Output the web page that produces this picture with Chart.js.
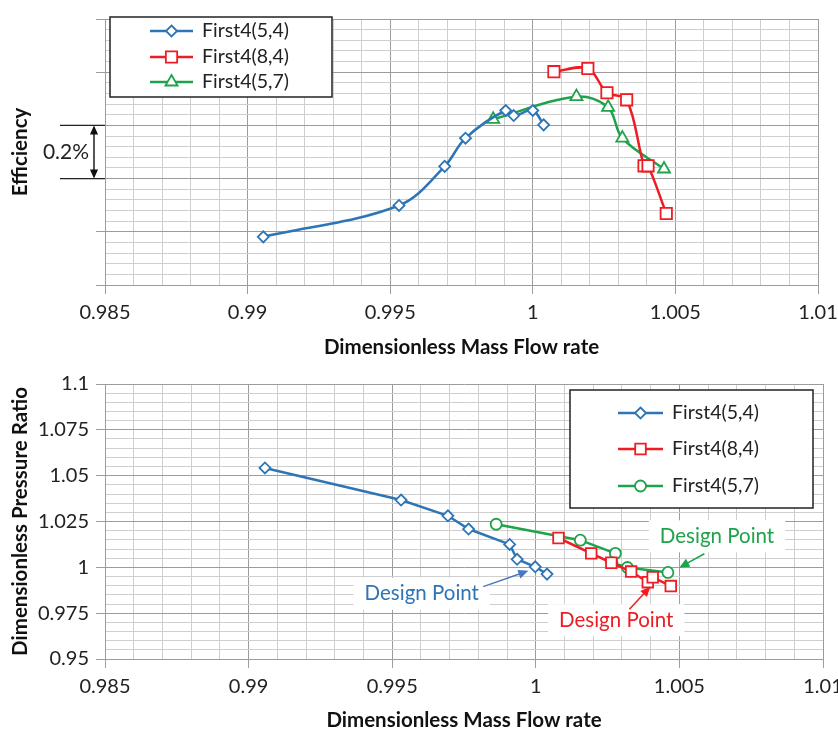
<!DOCTYPE html>
<html>
<head>
<meta charset="utf-8">
<script src="https://cdn.jsdelivr.net/npm/chart.js@4.4.0/dist/chart.umd.min.js"></script>
<style>
  body { margin: 0; background: #fff; width: 838px; height: 731px; overflow: hidden; position: relative; }
  .panel { position: absolute; left: 0; width: 838px; }
</style>
</head>
<body>
<div class="panel" style="top:0;height:365px"><canvas id="effChart" width="838" height="365"></canvas></div>
<div class="panel" style="top:365px;height:366px"><canvas id="prChart" width="838" height="366"></canvas></div>
<script>
// series names
const seriesNames = ['First4(5,4)', 'First4(8,4)', 'First4(5,7)'];

// axis tick labels
const flowTicks = ['0.985', '0.99', '0.995', '1', '1.005', '1.01'];
const ratioTicks = ['0.95', '0.975', '1', '1.025', '1.05', '1.075', '1.1'];

// efficiency panel (relative efficiency, in %, no absolute labels)
const flowEff54 = [0.99055, 0.99531, 0.99691, 0.99764, 0.99905, 0.99933, 1.0, 1.00038];
const eff54 = [0.181, 0.299, 0.446, 0.552, 0.656, 0.637, 0.656, 0.602];
const flowEff84 = [1.00074, 1.00193, 1.0026, 1.00329, 1.0039, 1.00404, 1.00468];
const eff84 = [0.802, 0.814, 0.723, 0.696, 0.448, 0.448, 0.269];
const flowEff57 = [0.99861, 1.00153, 1.00264, 1.00314, 1.0046];
const eff57 = [0.623, 0.708, 0.668, 0.552, 0.436];

// pressure ratio panel
const flowPr54 = [0.99057, 0.99531, 0.99694, 0.99766, 0.99909, 0.99935, 0.99998, 1.00039];
const pr54 = [1.0542, 1.0367, 1.0281, 1.0209, 1.0125, 1.0044, 1.0003, 0.9963];
const flowPr84 = [1.00079, 1.00193, 1.00263, 1.00332, 1.0039, 1.00407, 1.0047];
const pr84 = [1.016, 1.0076, 1.0025, 0.9977, 0.9919, 0.9946, 0.9898];
const flowPr57 = [0.99862, 1.00155, 1.00277, 1.00265, 1.00319, 1.0046];
const pr57 = [1.0235, 1.0148, 1.0076, 1.0026, 0.9999, 0.9972];

const BLUE = '#2e75b6', RED = '#ee1d23', GREEN = '#1fa34a';
const MAJOR = '#9c9c9c', MINOR = '#cfcfcf';
const FONT = 'Lato, "Noto Sans", sans-serif';

Chart.defaults.font.family = FONT;
Chart.defaults.font.size = 20;
Chart.defaults.color = '#222';

function pts(xs, ys) {
  return xs.map((x, i) => ({x: x, y: ys[i]}));
}

function isMajor(v, min, step) {
  const k = (v - min) / step;
  return Math.abs(k - Math.round(k)) < 1e-6;
}

function series(label, xs, ys, color, style, radius, tension) {
  return {
    label: label,
    data: pts(xs, ys),
    borderColor: color,
    borderWidth: 2.5,
    pointStyle: style,
    pointRadius: radius,
    pointBorderWidth: 1.8,
    pointBorderColor: color,
    pointBackgroundColor: '#fff',
    pointHoverRadius: radius,
    tension: tension
  };
}

function flowAxis(height, titlePad) {
  return {
    type: 'linear',
    min: 0.985, max: 1.01,
    afterFit: s => { s.height = height; s.paddingLeft = 0; s.paddingRight = 0; },
    grid: {
      color: c => isMajor(c.tick.value, 0.985, 0.005) ? MAJOR : MINOR,
      tickColor: c => isMajor(c.tick.value, 0.985, 0.005) ? MAJOR : 'transparent',
      tickLength: 9
    },
    border: {color: MAJOR},
    ticks: {
      stepSize: 0.001, autoSkip: false, maxRotation: 0, padding: 7,
      callback: v => isMajor(v, 0.985, 0.005) ? flowTicks[Math.round((v - 0.985) / 0.005)] : ''
    },
    title: {
      display: true, text: 'Dimensionless Mass Flow rate', color: '#111',
      font: {weight: 'bold', size: 20.5, lineHeight: 1}, padding: {top: 0, bottom: titlePad}
    }
  };
}

function valueAxis(min, max, step, major, labels, title) {
  return {
    type: 'linear',
    min: min, max: max,
    afterFit: s => { s.width = 105; },
    grid: {
      color: c => isMajor(c.tick.value, min, major) ? MAJOR : MINOR,
      tickColor: c => isMajor(c.tick.value, min, major) ? MAJOR : 'transparent',
      tickLength: 9
    },
    border: {color: MAJOR},
    ticks: {
      stepSize: step, autoSkip: false, padding: 7,
      callback: v => (labels && isMajor(v, min, major)) ? labels[Math.round((v - min) / major)] : ''
    },
    title: {
      display: true, text: title, color: '#111',
      font: {weight: 'bold', size: 20.5, lineHeight: 1}, padding: {top: 10, bottom: 0}
    }
  };
}

function drawMarker(ctx, style, x, y, r) {
  ctx.beginPath();
  if (style === 'rectRot') {
    ctx.moveTo(x, y - r); ctx.lineTo(x + r, y); ctx.lineTo(x, y + r); ctx.lineTo(x - r, y);
    ctx.closePath();
  } else if (style === 'rect') {
    const h = r * Math.SQRT1_2;
    ctx.rect(x - h, y - h, 2 * h, 2 * h);
  } else if (style === 'triangle') {
    ctx.moveTo(x, y - r);
    ctx.lineTo(x + r * Math.sin(Math.PI / 3), y + r / 2);
    ctx.lineTo(x - r * Math.sin(Math.PI / 3), y + r / 2);
    ctx.closePath();
  } else {
    ctx.arc(x, y, r, 0, Math.PI * 2);
  }
  ctx.fill();
  ctx.stroke();
}

// legend box inside the plot
const boxLegend = {
  id: 'boxLegend',
  afterDatasetsDraw(chart, args, o) {
    const ctx = chart.ctx;
    ctx.save();
    ctx.fillStyle = '#fff';
    ctx.fillRect(o.left, o.top, o.right - o.left, o.bottom - o.top);
    ctx.strokeStyle = '#222';
    ctx.lineWidth = 1.5;
    ctx.strokeRect(o.left, o.top, o.right - o.left, o.bottom - o.top);
    chart.data.datasets.forEach((ds, i) => {
      const y = o.rows[i];
      ctx.strokeStyle = ds.borderColor;
      ctx.lineWidth = 2.5;
      ctx.beginPath(); ctx.moveTo(o.lineFrom, y); ctx.lineTo(o.lineTo, y); ctx.stroke();
      ctx.fillStyle = '#fff';
      ctx.lineWidth = 1.8;
      drawMarker(ctx, ds.pointStyle, (o.lineFrom + o.lineTo) / 2, y, ds.pointRadius);
      ctx.fillStyle = '#222';
      ctx.font = '19.5px ' + FONT;
      ctx.textAlign = 'left';
      ctx.textBaseline = 'middle';
      ctx.fillText(ds.label, o.textX, y);
    });
    ctx.restore();
  }
};

function arrow(ctx, x1, y1, x2, y2, color, w, head) {
  const a = Math.atan2(y2 - y1, x2 - x1);
  ctx.strokeStyle = color; ctx.fillStyle = color; ctx.lineWidth = w;
  ctx.beginPath();
  ctx.moveTo(x1, y1);
  ctx.lineTo(x2 - head * 0.8 * Math.cos(a), y2 - head * 0.8 * Math.sin(a));
  ctx.stroke();
  ctx.beginPath();
  ctx.moveTo(x2, y2);
  ctx.lineTo(x2 - head * Math.cos(a) + head * 0.45 * Math.sin(a), y2 - head * Math.sin(a) - head * 0.45 * Math.cos(a));
  ctx.lineTo(x2 - head * Math.cos(a) - head * 0.45 * Math.sin(a), y2 - head * Math.sin(a) + head * 0.45 * Math.cos(a));
  ctx.closePath();
  ctx.fill();
}

// text notes and arrows
const notes = {
  id: 'notes',
  beforeDatasetsDraw(chart, args, o) {
    const ctx = chart.ctx, xs = chart.scales.x, ys = chart.scales.y;
    ctx.save();
    if (o.span) {
      // 0.2% bracket left of the efficiency axis
      const y1 = ys.getPixelForValue(o.span.from), y2 = ys.getPixelForValue(o.span.to);
      ctx.strokeStyle = '#222'; ctx.lineWidth = 1.2;
      ctx.beginPath();
      ctx.moveTo(60, y1); ctx.lineTo(chart.chartArea.left, y1);
      ctx.moveTo(60, y2); ctx.lineTo(chart.chartArea.left, y2);
      ctx.stroke();
      arrow(ctx, 94, (y1 + y2) / 2, 94, y1, '#111', 1.4, 9);
      arrow(ctx, 94, (y1 + y2) / 2, 94, y2, '#111', 1.4, 9);
      ctx.fillStyle = '#222';
      ctx.font = '21px ' + FONT;
      ctx.textAlign = 'center'; ctx.textBaseline = 'middle';
      ctx.fillText(o.span.text, 66, (y1 + y2) / 2);
    }
    (o.labels || []).forEach(n => {
      const tx = xs.getPixelForValue(n.x), ty = ys.getPixelForValue(n.y);
      ctx.font = '20.5px ' + FONT;
      const w = ctx.measureText(n.text).width + 22;
      ctx.fillStyle = '#fff';
      ctx.fillRect(tx - w / 2, ty - 16, w, 32);
      ctx.fillStyle = n.color;
      ctx.textAlign = 'center'; ctx.textBaseline = 'middle';
      ctx.fillText(n.text, tx, ty);
      arrow(ctx, xs.getPixelForValue(n.from[0]), ys.getPixelForValue(n.from[1]),
        xs.getPixelForValue(n.to[0]), ys.getPixelForValue(n.to[1]), n.arrow, 1.5, 10);
    });
    ctx.restore();
  }
};

new Chart(document.getElementById('effChart'), {
  type: 'line',
  data: {
    datasets: [
      series(seriesNames[0], flowEff54, eff54, BLUE, 'rectRot', 5.5, 0.35),
      series(seriesNames[1], flowEff84, eff84, RED, 'rect', 8, 0.35),
      series(seriesNames[2], flowEff57, eff57, GREEN, 'triangle', 7, 0.35)
    ]
  },
  options: {
    responsive: false,
    animation: false,
    devicePixelRatio: 1,
    layout: {padding: {top: 12, right: 20, left: 0, bottom: 0}},
    scales: {
      x: flowAxis(80, 7),
      y: valueAxis(0, 1, 0.04, 0.2, null, 'Efficiency')
    },
    plugins: {
      legend: {display: false},
      tooltip: {enabled: false},
      boxLegend: {left: 110, top: 17, right: 332, bottom: 97, rows: [31, 57, 82], lineFrom: 150, lineTo: 193, textX: 202},
      notes: {span: {from: 0.6, to: 0.4, text: '0.2%'}}
    }
  },
  plugins: [notes, boxLegend]
});

new Chart(document.getElementById('prChart'), {
  type: 'line',
  data: {
    datasets: [
      series(seriesNames[0], flowPr54, pr54, BLUE, 'rectRot', 5.5, 0),
      series(seriesNames[1], flowPr84, pr84, RED, 'rect', 7.5, 0),
      series(seriesNames[2], flowPr57, pr57, GREEN, 'circle', 5.5, 0)
    ]
  },
  options: {
    responsive: false,
    animation: false,
    devicePixelRatio: 1,
    layout: {padding: {top: 16, right: 15, left: 0, bottom: 0}},
    scales: {
      x: flowAxis(72, 0),
      y: valueAxis(0.95, 1.1, 0.005, 0.025, ratioTicks, 'Dimensionless Pressure Ratio')
    },
    plugins: {
      legend: {display: false},
      tooltip: {enabled: false},
      boxLegend: {left: 570, top: 25, right: 813, bottom: 143, rows: [48, 84, 121], lineFrom: 618, lineTo: 663, textX: 672},
      notes: {
        labels: [
          {text: 'Design Point', x: 0.99603, y: 0.98554, color: BLUE, arrow: '#4a78bd', from: [0.99817, 0.98947], to: [0.99974, 0.99808]},
          {text: 'Design Point', x: 1.00631, y: 1.01692, color: GREEN, arrow: GREEN, from: [1.00587, 1.0074], to: [1.005, 0.99986]},
          {text: 'Design Point', x: 1.0028, y: 0.97116, color: RED, arrow: RED, from: [1.00326, 0.97708], to: [1.00399, 0.98946]}
        ]
      }
    }
  },
  plugins: [notes, boxLegend]
});
</script>
</body>
</html>
